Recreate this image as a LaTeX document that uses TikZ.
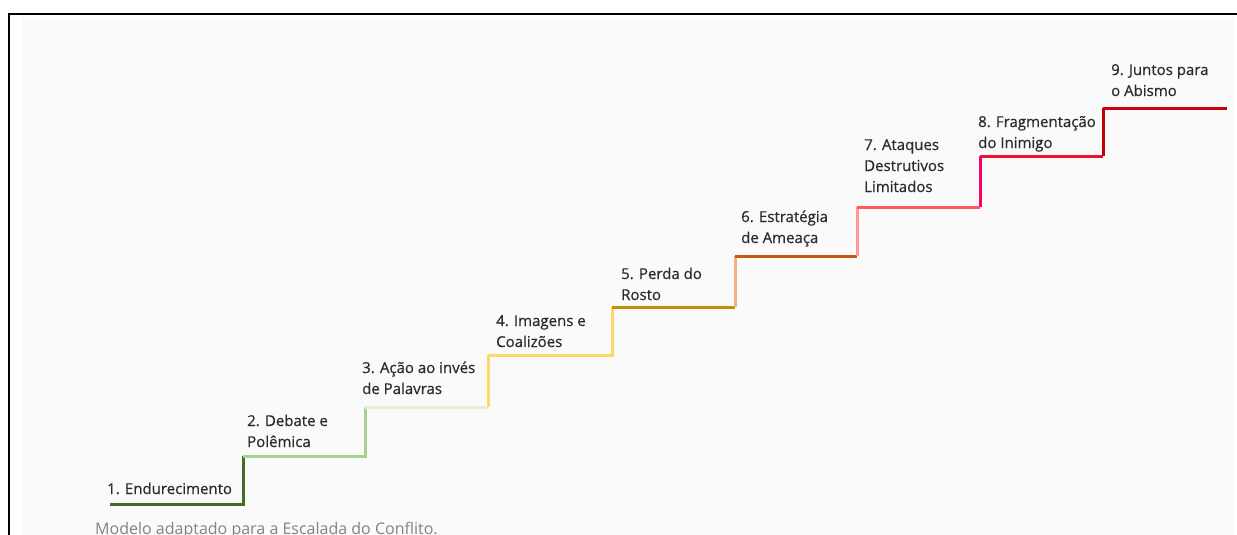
\documentclass[tikz,border=0pt]{standalone}
\usepackage{fontspec}
\setmainfont{Open Sans}
\newfontfamily\labelfont[FakeBold=0.6]{Open Sans}
\definecolor{stepA}{HTML}{416F22}
\definecolor{stepB}{HTML}{A9D18E}
\definecolor{stepC}{HTML}{E2F0D9}
\definecolor{stepD}{HTML}{FFD966}
\definecolor{stepE}{HTML}{BF9000}
\definecolor{riseE}{HTML}{F4B183}
\definecolor{stepF}{HTML}{C55A11}
\definecolor{riseF}{HTML}{FF9999}
\definecolor{stepG}{HTML}{FF5A5F}
\definecolor{riseG}{HTML}{FF0066}
\definecolor{stepH}{HTML}{F0102A}
\definecolor{riseH}{HTML}{C00000}
\definecolor{stepI}{HTML}{CC0008}
\definecolor{paper}{HTML}{FAFAFA}
\definecolor{labeltext}{HTML}{2B2B2B}
\definecolor{captiontext}{HTML}{7F8287}
\tikzset{
  stair/.style={line width=3pt, line cap=square},
  steplabel/.style={anchor=base west, align=left, inner sep=0pt, text=labeltext,
    font=\labelfont\fontsize{15}{21}\selectfont}
}
\begin{document}
\begin{tikzpicture}[x=1pt, y=-1pt]
  \useasboundingbox (0,0) rectangle (1237,535);
  \clip (0,0) rectangle (1237,535);
  \fill[white] (0,0) rectangle (1237,535);
  \fill[paper] (23,17) rectangle (1234,535);
  \draw[line width=2.6pt] (9,540) -- (9,14) -- (1240,14);

  %% corners of the stair
  \coordinate (s0) at (110,504);
  \coordinate (s1) at (243,504);
  \coordinate (s2) at (243,456);
  \coordinate (s3) at (365,456);
  \coordinate (s4) at (365,407);
  \coordinate (s5) at (488,407);
  \coordinate (s6) at (488,355);
  \coordinate (s7) at (612,355);
  \coordinate (s8) at (612,307);
  \coordinate (s9) at (735,307);
  \coordinate (s10) at (735,256);
  \coordinate (s11) at (857,256);
  \coordinate (s12) at (857,207);
  \coordinate (s13) at (980,207);
  \coordinate (s14) at (980,156);
  \coordinate (s15) at (1103,156);
  \coordinate (s16) at (1103,108);
  \coordinate (s17) at (1227,108);

  %% step 1
  \draw[stair, stepA] (s0) -- (s1) -- (s2);
  %% step 2
  \draw[stair, stepB] (s2) -- (s3) -- (s4);
  %% step 3
  \draw[stair, stepC] (s4) -- (s5);
  \draw[stair, stepD] (s5) -- (s6);
  %% step 4
  \draw[stair, stepD] (s6) -- (s7) -- (s8);
  %% step 5
  \draw[stair, stepE] (s8) -- (s9);
  \draw[stair, riseE] (s9) -- (s10);
  %% step 6
  \draw[stair, stepF] (s10) -- (s11);
  \draw[stair, riseF] (s11) -- (s12);
  %% step 7
  \draw[stair, stepG] (s12) -- (s13);
  \draw[stair, riseG] (s13) -- (s14);
  %% step 8
  \draw[stair, stepH] (s14) -- (s15);
  \draw[stair, riseH] (s15) -- (s16);
  %% step 9
  \draw[stair, stepI] (s16) -- (s17);

  %% labels (base = last line)
  \node[steplabel] (l1) at (107,494) {1. Endurecimento};
  \node[steplabel] (l2) at (247,447) {2. Debate e\\Polêmica};
  \node[steplabel] (l3) at (362,394) {3. Ação ao invés\\de Palavras};
  \node[steplabel] (l4) at (496,347) {4. Imagens e\\Coalizões};
  \node[steplabel] (l5) at (621,300) {5. Perda do\\Rosto};
  \node[steplabel] (l6) at (741,243) {6. Estratégia\\de Ameaça};
  \node[steplabel] (l7) at (864,192) {7. Ataques\\Destrutivos\\Limitados};
  \node[steplabel] (l8) at (978,148) {8. Fragmentação\\do Inimigo};
  \node[steplabel] (l9) at (1111,96) {9. Juntos para\\o Abismo};

  \node[anchor=base west, inner sep=0pt, text=captiontext,
    font=\fontsize{16}{20}\selectfont] (caption) at (95,534)
    {Modelo adaptado para a Escalada do Conflito.};
\end{tikzpicture}
\end{document}
